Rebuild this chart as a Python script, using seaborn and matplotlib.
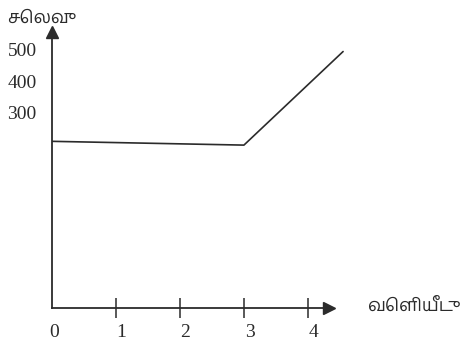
import matplotlib
matplotlib.use("Agg")
import matplotlib.pyplot as plt
import matplotlib.transforms as mtransforms
import pandas as pd
import seaborn as sns

# data
output = [0, 3, 4.55]
cost = [210, 198, 495]
x_ticks = [1, 2, 3, 4]
x_labels = ["1", "2", "3", "4"]
y_ticks = [300, 400, 500]
y_labels = ["300", "400", "500"]
y_title = "செலவு"
x_title = "வெளியீடு"

ink = "#2b2b2b"

sns.set_theme(style="white")
plt.rcParams["font.family"] = ["Liberation Serif", "DejaVu Serif"]
tamil = ["Hind Madurai", "DejaVu Sans"]

df = pd.DataFrame({"output": output, "cost": cost})

fig = plt.figure(figsize=(4.61, 3.49), dpi=100)
ax = fig.add_axes([52 / 461, 41 / 349, 293 / 461, 276 / 349])

sns.lineplot(data=df, x="output", y="cost", color=ink, linewidth=1.2, ax=ax)

ax.set_xlim(0, 4.58)
ax.set_ylim(-319, 557)

# axes drawn as arrows, like the textbook figure
for side in ["top", "right"]:
    ax.spines[side].set_visible(False)
for side in ["left", "bottom"]:
    ax.spines[side].set_color(ink)
    ax.spines[side].set_linewidth(1.3)
ax.spines["bottom"].set_bounds(0, 4.33)
ax.plot(0, 1, "^", color=ink, markersize=9, transform=ax.get_xaxis_transform(), clip_on=False)
ax.plot(4.33, 0, ">", color=ink, markersize=9, transform=ax.get_xaxis_transform(), clip_on=False)

ax.set_xticks(x_ticks)
ax.set_xticklabels(x_labels)
ax.set_yticks(y_ticks)
ax.set_yticklabels(y_labels)
ax.tick_params(axis="x", bottom=True, direction="inout", length=15, width=1.1, color=ink,
               pad=4, labelsize=14, labelcolor=ink)
ax.tick_params(axis="y", left=False, length=0, pad=11, labelsize=14, labelcolor=ink)
shift = mtransforms.ScaledTranslation(4 / 72, 0, fig.dpi_scale_trans)
for lab in ax.get_xticklabels():
    lab.set_transform(lab.get_transform() + shift)

ax.set_xlabel("")
ax.set_ylabel("")
ax.grid(False)

# origin label
ax.annotate("0", xy=(0, 0), xycoords=ax.get_xaxis_transform(), xytext=(1.5, -11.5),
            textcoords="offset points", ha="center", va="top", fontsize=14, color=ink,
            annotation_clip=False)

fig.text(7 / 461, 1 - 18 / 349, y_title, family=tamil, fontsize=13, color=ink,
         ha="left", va="center")
fig.text(410 / 461, 1 - 306 / 349, x_title, family=tamil, fontsize=13, color=ink,
         ha="center", va="center")

fig.savefig("out.png", dpi=100, facecolor="white")
